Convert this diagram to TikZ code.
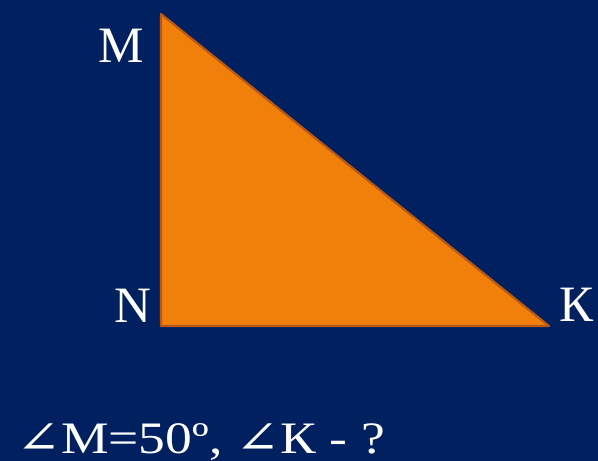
\documentclass[tikz,border=0pt]{standalone}
\usepackage{fontspec}
\setmainfont{Liberation Serif}
\newfontfamily\symfont{DejaVu Serif}
\usepackage{xcolor}
\usetikzlibrary{positioning}
\definecolor{navy}{RGB}{0,32,96}
\definecolor{trifill}{RGB}{240,128,10}
\definecolor{triedge}{RGB}{185,88,20}

\begin{document}
\begin{tikzpicture}[x=1pt,y=-1pt,every node/.style={text=white,inner sep=0pt}]
\tikzstyle{vlabel}=[font=\fontsize{51}{51}\selectfont]
\tikzstyle{task}=[font=\fontsize{45}{45}\selectfont,anchor=base west]
\fill[navy] (0,0) rectangle (598,461);
\useasboundingbox (0,0) rectangle (598,461);
% vertices
\coordinate (m) at (161,14);
\coordinate (n) at (161,326);
\coordinate (k) at (549,326);
\draw[triedge,fill=trifill,line width=2.2pt,line join=round] (m) -- (n) -- (k) -- cycle;
\node[vlabel] (lm) at (121,46) {M};
\node[vlabel] (ln) at (133,306) {N};
\node[vlabel] (lk) at (577,305) {К};
\node[task] (q) at (16,453) {\scalebox{1.19}[1]{{\symfont ∠}M={}50º, {\symfont ∠}К - ?}};
\end{tikzpicture}
\end{document}
